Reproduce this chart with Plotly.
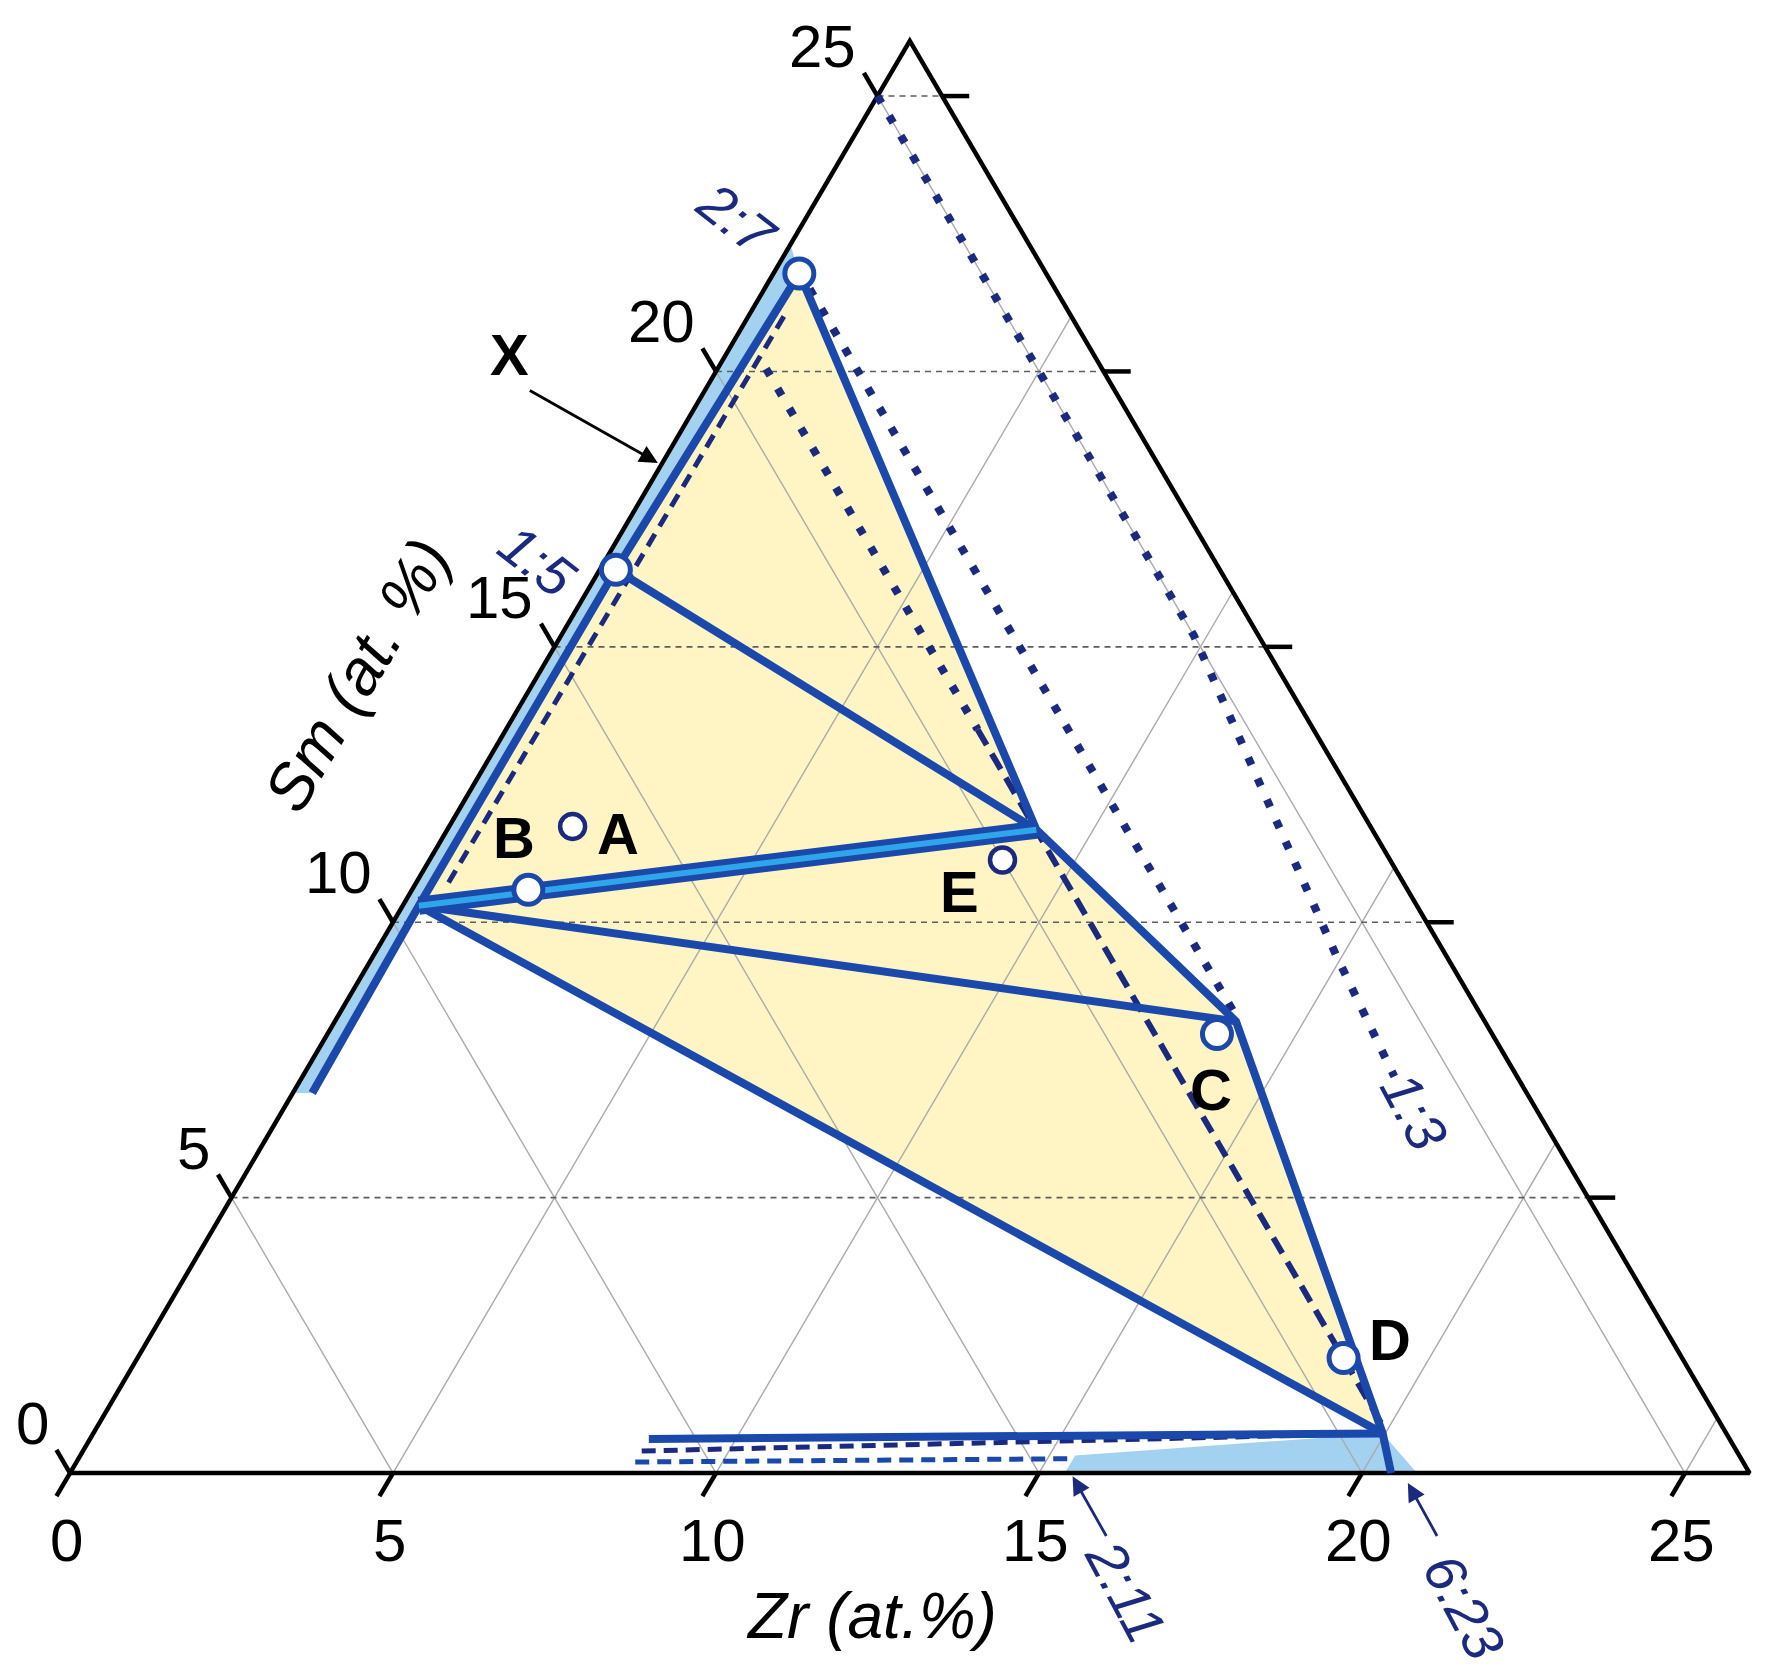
import math
import plotly.graph_objects as go

# ---------------- data : compositions in (at.% Zr, at.% Sm) ----------------
TOTAL = 26.0                      # Zr + Sm on the right-hand edge (Co = 74 at.%)
tick_values = [0, 5, 10, 15, 20, 25]
tick_labels = ["0", "5", "10", "15", "20", "25"]

# shaded phase fields
yellow_zr = [0.40, 9.12, 13.95, 19.96, 0.25, 0.25, 0.40]
yellow_sm = [21.78, 11.68, 8.20, 0.72, 10.30, 16.40, 21.78]
band_zr = [0.00, 0.00, 0.40, 0.25, 0.25, 0.30]
band_sm = [6.90, 22.30, 21.78, 16.40, 10.30, 6.90]
bottom_band_zr = [15.40, 15.40, 19.96, 20.85]
bottom_band_sm = [0.00, 0.32, 0.72, 0.00]

# solid boundaries / tie lines
left_zr = [0.30, 0.25, 0.25, 0.40]
left_sm = [6.90, 10.30, 16.40, 21.78]
main_zr = [0.40, 9.12, 13.95, 19.96, 20.45]
main_sm = [21.78, 11.68, 8.20, 0.72, 0.00]
tie15_zr = [0.25, 9.12]
tie15_sm = [16.40, 11.68]
tieBC_zr = [0.25, 13.95]
tieBC_sm = [10.30, 8.20]
tieBD_zr = [0.25, 19.96]
tieBD_sm = [10.30, 0.72]
bottom_zr = [8.65, 19.96]
bottom_sm = [0.62, 0.72]
tieBE_zr = [0.25, 9.12]
tieBE_sm = [10.30, 11.68]

# dashed lines
inner_zr = [0.55, 0.50]
inner_sm = [21.00, 10.70]
l519_dash_zr = [7.30, 19.85]
l519_dash_sm = [13.50, 0.90]
bottom_d1_zr = [8.65, 19.96]
bottom_d1_sm = [0.40, 0.72]
bottom_d2_zr = [8.65, 15.40]
bottom_d2_sm = [0.20, 0.26]

# dotted lines
l13_zr = [0.0, 5.0, 9.8, 14.9, 16.9]
l13_sm = [25.0, 20.0, 15.2, 9.4, 7.2]
l27_zr = [0.70, 13.90]
l27_sm = [21.50, 8.30]
l519_dot_zr = [0.75, 7.30]
l519_dot_sm = [20.05, 13.50]

# phase / alloy points
open_names = ["2:7", "1:5", "B", "C", "D"]
open_zr = [0.40, 0.25, 1.80, 13.77, 18.67]
open_sm = [21.78, 16.40, 10.59, 7.97, 2.09]
small_names = ["A", "E"]
small_zr = [1.91, 8.87]
small_sm = [11.74, 11.13]

# ---------------- projection of (Zr, Sm) onto the triangle ----------------
H = math.sqrt(3) / 2


def to_xy(zr, sm):
    x = [None if (a is None or b is None) else a + b / 2 for a, b in zip(zr, sm)]
    y = [None if b is None else b * H for b in sm]
    return x, y


def pt(zr, sm):
    return zr + sm / 2, sm * H


BLUE = "#1b48ab"
NAVY = "#1b2a7e"
LIGHTBLUE = "#a2d2f0"
YELLOW = "#fff5c4"
FONT = "Liberation Sans Narrow, Arial Narrow, Liberation Sans, Arial, sans-serif"

fig = go.Figure()


def add_line(zr, sm, color, width, dash="solid", fill=None, fillcolor=None):
    x, y = to_xy(zr, sm)
    fig.add_trace(go.Scatter(
        x=x, y=y, mode="lines", fill=fill, fillcolor=fillcolor,
        line=dict(color=color, width=width, dash=dash),
        hoverinfo="skip", showlegend=False))


# fills
add_line(yellow_zr, yellow_sm, "rgba(0,0,0,0)", 0, fill="toself", fillcolor=YELLOW)
add_line(band_zr, band_sm, "rgba(0,0,0,0)", 0, fill="toself", fillcolor=LIGHTBLUE)
add_line(bottom_band_zr, bottom_band_sm, "rgba(0,0,0,0)", 0, fill="toself", fillcolor=LIGHTBLUE)

# grid lines
hz, hs, sz, ss = [], [], [], []
for v in tick_values[1:]:
    hz += [0, TOTAL - v, None]
    hs += [v, v, None]
    sz += [v, v, None, v, 0, None]          # iso-Zr and iso-Co lines
    ss += [0, TOTAL - v, None, 0, v, None]
add_line(sz, ss, "#aaaaaa", 1.4)
add_line(hz, hs, "#5e5e5e", 1.6, dash="6px,5px")

# frame + ticks (ticks continue the grid families outside the triangle)
T = 0.42
fz = [0, TOTAL, 0, 0]
fs = [0, 0, TOTAL, 0]
add_line(fz, fs, "black", 4.5)
tz, ts = [], []
for v in tick_values:
    tz += [0, -T, None]                     # left edge (iso-Co)
    ts += [v, v + T, None]
    tz += [v, v, None]                      # bottom edge (iso-Zr)
    ts += [0, -T, None]
    if v > 0:
        tz += [TOTAL - v, TOTAL - v + T, None]  # right edge (iso-Sm)
        ts += [v, v, None]
add_line(tz, ts, "black", 4.5)

# dotted / dashed lines
DOT = "8px,15px"
DASH = "18px,10px"
add_line(l13_zr, l13_sm, NAVY, 8, dash=DOT)
add_line(l27_zr, l27_sm, NAVY, 8, dash=DOT)
add_line(l519_dot_zr, l519_dot_sm, NAVY, 8, dash=DOT)
add_line(l519_dash_zr, l519_dash_sm, NAVY, 6, dash=DASH)
add_line(inner_zr, inner_sm, NAVY, 5, dash="14px,9px")
add_line(bottom_d1_zr, bottom_d1_sm, NAVY, 5, dash="14px,8px")
add_line(bottom_d2_zr, bottom_d2_sm, BLUE, 5, dash="14px,8px")

# solid boundaries
for zr, sm in [(left_zr, left_sm), (main_zr, main_sm), (tie15_zr, tie15_sm),
               (tieBC_zr, tieBC_sm), (tieBD_zr, tieBD_sm), (bottom_zr, bottom_sm)]:
    add_line(zr, sm, BLUE, 8)
add_line(tieBE_zr, tieBE_sm, BLUE, 18)
add_line(tieBE_zr, tieBE_sm, "#2fa6ea", 6)

# markers
ox, oy = to_xy(open_zr, open_sm)
fig.add_trace(go.Scatter(x=ox, y=oy, mode="markers", text=open_names, hoverinfo="text",
                         marker=dict(size=29, color="white", line=dict(color=BLUE, width=5)),
                         showlegend=False))
sx, sy = to_xy(small_zr, small_sm)
fig.add_trace(go.Scatter(x=sx, y=sy, mode="markers", text=small_names, hoverinfo="text",
                         marker=dict(size=25, color="white", line=dict(color=NAVY, width=4.5)),
                         showlegend=False))

# ---------------- text ----------------
ann = []
NUM = dict(family=FONT, size=60, color="black")
for v, lab in zip(tick_values, tick_labels):
    x, y = pt(0, v)
    ann.append(dict(x=x - 0.30, y=y + 0.78, text=lab, showarrow=False,
                    xanchor="right", yanchor="middle", font=NUM))
    x, y = pt(v, 0)
    ann.append(dict(x=x - 0.05, y=-1.065, text=lab, showarrow=False,
                    xanchor="center", yanchor="middle", font=NUM))

TITLE = dict(family=FONT, size=64, color="black")
x, y = pt(13.71, -2.60)
ann.append(dict(x=x, y=y, text="<i>Zr (at.%)</i>", showarrow=False, font=TITLE))
x, y = pt(-2.80, 14.49)
ann.append(dict(x=x, y=y, text="<i>Sm (at. %)</i>", showarrow=False, font=TITLE, textangle=-59.5))

BOLD = dict(family="Liberation Sans, Arial, sans-serif", size=58, color="black")
for lab, zr, sm in [("A", 2.68, 11.62), ("B", 1.10, 11.54), ("C", 14.18, 6.97),
                    ("D", 19.23, 2.42), ("E", 8.49, 10.55), ("X", -3.35, 20.30)]:
    x, y = pt(zr, sm)
    ann.append(dict(x=x, y=y, text="<b>%s</b>" % lab, showarrow=False, font=BOLD))

RATIO = dict(family=FONT, size=56, color=NAVY)
for lab, zr, sm, ang in [("2:7", -1.05, 22.75, 38), ("1:5", -1.05, 16.56, 38),
                         ("1:3", 17.53, 6.56, 62), ("2:11", 17.42, -2.15, 62),
                         ("6:23", 22.79, -2.42, 62)]:
    x, y = pt(zr, sm)
    ann.append(dict(x=x, y=y, text="<i>%s</i>" % lab, showarrow=False, font=RATIO, textangle=ang))

for (hz_, hs_), (tz_, ts_), col, w in [((-0.07, 18.34), (-2.74, 19.67), "black", 2.8),
                                        ((15.55, -0.06), (16.64, -1.17), NAVY, 2.8),
                                        ((20.80, -0.18), (21.76, -1.17), NAVY, 2.8)]:
    x, y = pt(hz_, hs_)
    ax, ay = pt(tz_, ts_)
    ann.append(dict(x=x, y=y, ax=ax, ay=ay, axref="x", ayref="y", text="",
                    showarrow=True, arrowhead=2, arrowsize=1.3, arrowwidth=w,
                    arrowcolor=col, standoff=0))

fig.update_layout(
    width=1770, height=1669, autosize=False,
    margin=dict(l=0, r=0, t=0, b=0, pad=0),
    paper_bgcolor="white", plot_bgcolor="white",
    xaxis=dict(range=[-0.960, 26.440], visible=False, fixedrange=True),
    yaxis=dict(range=[-3.207, 23.035], visible=False, fixedrange=True),
    annotations=ann,
    showlegend=False,
)

fig.write_html("out.html")
